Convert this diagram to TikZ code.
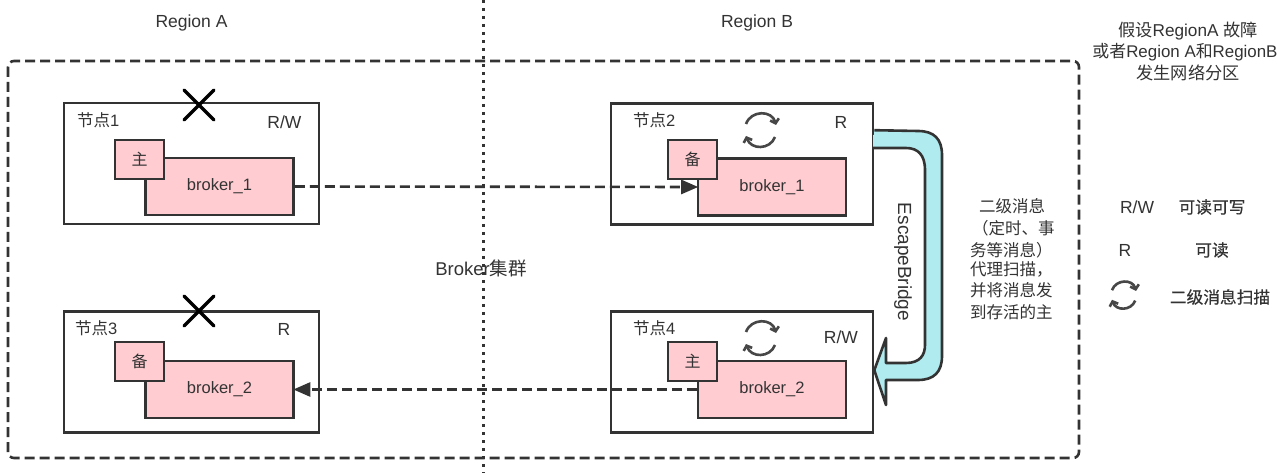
\documentclass[tikz,border=0pt]{standalone}
\usepackage{fontspec}
\setmainfont{Liberation Sans}
\newfontfamily\cjk{Noto Sans CJK SC}
\newfontfamily\cjkheavy[FakeBold=0.5]{Noto Sans CJK SC}
\usetikzlibrary{arrows.meta,calc}
\definecolor{ink}{HTML}{333333}
\definecolor{pinkfill}{HTML}{FFCCD2}
\definecolor{bridge}{HTML}{B0EBF0}
\newcommand{\fsz}[1]{\fontsize{#1}{#1}\selectfont}
\newcommand{\lowered}[1]{\raisebox{-3pt}{#1}}
\tikzset{
  hostbox/.style={draw=ink,line width=2.6pt,fill=white,inner sep=0pt,minimum width=255pt,minimum height=121pt},
  brokerbox/.style={draw=ink,line width=2.6pt,fill=pinkfill,inner sep=0pt,minimum width=148pt,minimum height=57pt,text=ink,font=\fsz{16.5}},
  tagbox/.style={draw=ink,line width=2.6pt,fill=pinkfill,inner sep=0pt,minimum width=49pt,minimum height=39pt,text=ink,font=\fsz{16}\cjk},
  lbl/.style={text=ink,inner sep=0pt,font=\fsz{17.5}},
  hostlbl/.style={text=ink,inner sep=0pt,font=\fsz{16.5},anchor=west},
  cjklbl/.style={text=ink,inner sep=0pt,font=\fsz{16.5}\cjk,anchor=west},
  legendlbl/.style={text=ink,inner sep=0pt,font=\fsz{16.7}\cjkheavy},
  dashlink/.style={draw=ink,line width=2.6pt,dash pattern=on 10pt off 5pt,shorten >=-1.5pt,-{Triangle[length=17pt,width=14pt,fill=ink]}},
  cross/.pic={\draw[black,line width=3.5pt,line cap=round] (-15,-15) -- (15,15) (-15,15) -- (15,-15);},
  cycleicon/.pic={
    \draw[ink!90,line width=2.6pt,-{Straight Barb[length=4pt,width=9pt]}] (-15,-6) .. controls (-10,-20) and (11,-20) .. (15,-5);
    \draw[ink!90,line width=2.6pt,-{Straight Barb[length=4pt,width=9pt]}] (14,7) .. controls (9,20) and (-10,20) .. (-15,6);
  },
}
\begin{document}
\begin{tikzpicture}[x=1pt,y=-1pt]
\useasboundingbox (0,0) rectangle (1278,473);
\fill[white] (0,0) rectangle (1278,473);
% cluster
\draw[ink,line width=2.6pt,dash pattern=on 10pt off 5pt,rounded corners=6pt] (8,61) rectangle (1079,458);
% hosts
\node[hostbox] (n1) at (191.5,163.5) {};
\node[hostbox] (n3) at (191.5,372) {};
\node[hostbox,minimum width=262pt] (n2) at (742,164) {};
\node[hostbox,minimum width=262pt] (n4) at (742,372) {};
% region divider
\coordinate (dtop) at (483,0);
\coordinate (dbot) at (483,473);
\draw[ink,line width=3pt,dash pattern=on 3pt off 5pt] (dtop) -- (dbot);
% brokers
\node[brokerbox] (b1) at (219.5,186.5) {\lowered{broker\_1}};
\node[brokerbox] (b2) at (772,187) {\lowered{broker\_1}};
\node[brokerbox] (b3) at (219.5,389.5) {\lowered{broker\_2}};
\node[brokerbox] (b4) at (772,389.5) {\lowered{broker\_2}};
\node[tagbox] (t1) at (139.5,159.5) {\lowered{主}};
\node[tagbox] (t2) at (692.5,159.5) {\lowered{备}};
\node[tagbox] (t3) at (139.5,361.5) {\lowered{备}};
\node[tagbox] (t4) at (692.5,361.5) {\lowered{主}};
% connectors
\draw[dashlink] (b1.east) -- (b2.west);
\draw[dashlink] (b4.west) -- (b3.east);
% bridge
\coordinate (eb1) at ($(n2.north east)+(0,28)$);
\coordinate (eb2) at ($(n4.north east)+(0,60)$);
\draw[bridge,fill=bridge,line width=0pt] (eb1) -- (918,131) .. controls (934,131) and (942,139) .. (942,155) -- (942,356) .. controls (942,372) and (934,380) .. (918,380) -- (886,380) -- (886,405) -- (eb2) -- (886,338) -- (886,363) -- (906,363) .. controls (920,363) and (925,355) .. (925,345) -- (925,170) .. controls (925,155) and (918,148) .. (906,148) -- (873,148) -- cycle;
\draw[ink,line width=2.6pt,line join=round] (eb1) -- (918,131) .. controls (934,131) and (942,139) .. (942,155) -- (942,356) .. controls (942,372) and (934,380) .. (918,380) -- (886,380) -- (886,405) -- (eb2) -- (886,338) -- (886,363) -- (906,363) .. controls (920,363) and (925,355) .. (925,345) -- (925,170) .. controls (925,155) and (918,148) .. (906,148) -- (873,148);
\node[lbl,rotate=-90,font=\fsz{19}] (eb) at (903,262) {EscapeBridge};
% crosses and cycles
\pic at (199,105) {cross};
\pic at (199,311) {cross};
\pic at (761,130) {cycleicon};
\pic at (761,338) {cycleicon};
\pic[scale=.8] at (1124,295) {cycleicon};
% host labels
\node[hostlbl] (l1) at (77,120) {{\cjk 节点}1};
\node[hostlbl] (l2) at (633,120) {{\cjk 节点}2};
\node[hostlbl] (l3) at (75,328) {{\cjk 节点}3};
\node[hostlbl] (l4) at (633,328) {{\cjk 节点}4};
\node[lbl] (r1) at (284.5,122) {R/W};
\node[lbl] (r2) at (841,122) {R};
\node[lbl] (r3) at (284,329) {R};
\node[lbl] (r4) at (841,337) {R/W};
% headings
\node[lbl] (ra) at (191.5,23) {Region A};
\node[lbl] (rb) at (757,23) {Region B};
\node[lbl,font=\fsz{18.5}] (cl) at (481,268) {Broker{\cjk 集群}};
% note
\node[lbl,font=\fsz{17.2}] (n1a) at (1188,31) {{\cjk 假设}RegionA {\cjk 故障}};
\node[lbl,font=\fsz{16.9}] (n1b) at (1185,52) {{\cjk 或者}Region A{\cjk 和}RegionB};
\node[lbl,font=\fsz{17.2}] (n1c) at (1188,73) {{\cjk 发生网络分区}};
% secondary note
\node[cjklbl] (s1) at (979,206) {二级消息};
\node[cjklbl] (s2) at (972,228) {（定时、事};
\node[cjklbl] (s3) at (970,250) {务等消息）};
\node[cjklbl] (s4) at (970,269) {代理扫描，};
\node[cjklbl] (s5) at (970,290) {并将消息发};
\node[cjklbl] (s6) at (970,312) {到存活的主};
% legend
\node[lbl] (k1) at (1137,207) {R/W};
\node[legendlbl] (v1) at (1212,207) {可读可写};
\node[lbl] (k2) at (1125,250) {R};
\node[legendlbl] (v2) at (1212,250) {可读};
\node[legendlbl] (v3) at (1220,297) {二级消息扫描};
\end{tikzpicture}
\end{document}
